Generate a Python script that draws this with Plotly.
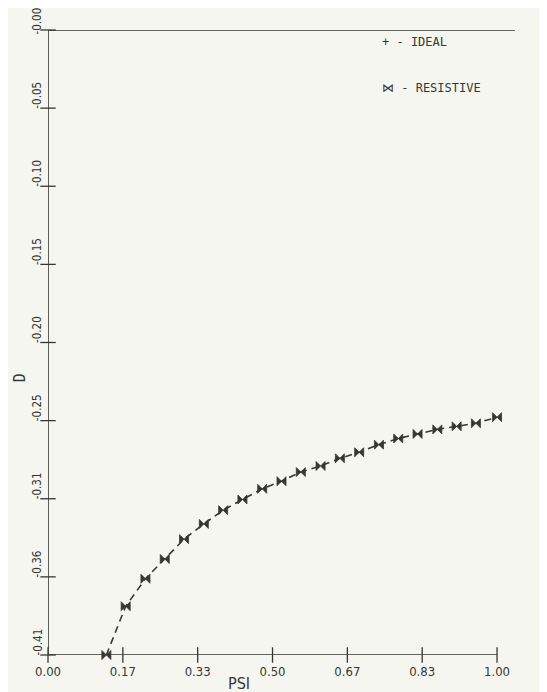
import plotly.graph_objects as go

# ---- data ----
psi = [0.130, 0.173, 0.217, 0.260, 0.303, 0.347, 0.390, 0.433, 0.477, 0.520,
       0.563, 0.607, 0.650, 0.693, 0.737, 0.780, 0.823, 0.867, 0.910, 0.953, 1.000]
d_resistive = [-0.410, -0.378, -0.360, -0.347, -0.334, -0.324, -0.315, -0.308, -0.301, -0.296,
               -0.290, -0.286, -0.281, -0.277, -0.272, -0.268, -0.265, -0.262, -0.260, -0.258, -0.254]
x_tickvals = [0, 1/6, 2/6, 3/6, 4/6, 5/6, 1.0]
x_ticktext = ["0.00", "0.17", "0.33", "0.50", "0.67", "0.83", "1.00"]
y_tickvals = [-0.41 * i / 8 for i in range(9)]
y_ticktext = ["-0.00", "-0.05", "-0.10", "-0.15", "-0.20", "-0.25", "-0.31", "-0.36", "-0.41"]

ink = "#363634"
paper = "#f5f6ef"
font = "DejaVu Sans Mono"
cond = "DejaVu Sans Condensed, DejaVu Sans"

xmin, xmax = x_tickvals[0], x_tickvals[-1]
ymin, ymax = min(y_tickvals), max(y_tickvals)

fig = go.Figure()

# resistive curve
fig.add_trace(go.Scatter(
    x=psi, y=d_resistive, mode="lines+markers",
    line=dict(color=ink, width=1.6, dash="7px,5px"),
    marker=dict(symbol="bowtie", size=9, color=ink, line=dict(width=0.8, color=ink)),
    cliponaxis=False, showlegend=False))

# axis tick marks (crossing the axes)
fig.add_trace(go.Scatter(
    x=x_tickvals, y=[ymin] * len(x_tickvals), mode="markers",
    marker=dict(symbol="line-ns-open", size=11, color=ink, line=dict(color=ink, width=1.3)),
    cliponaxis=False, showlegend=False, hoverinfo="skip"))
fig.add_trace(go.Scatter(
    x=[xmin] * len(y_tickvals), y=y_tickvals, mode="markers",
    marker=dict(symbol="line-ew-open", size=11, color=ink, line=dict(color=ink, width=1.3)),
    cliponaxis=False, showlegend=False, hoverinfo="skip"))

# frame lines
fig.add_shape(type="line", x0=xmin, x1=xmax, y0=ymin, y1=ymin, line=dict(color=ink, width=1.6))
fig.add_shape(type="line", x0=xmin, x1=xmin, y0=ymin, y1=ymax, line=dict(color=ink, width=1.6))
fig.add_shape(type="line", xref="paper", x0=0, x1=1, y0=ymax, y1=ymax, line=dict(color=ink, width=1.6))

annotations = [
    dict(text="PSI", xref="paper", yref="paper", x=0.41, y=0, yshift=-28,
         xanchor="center", yanchor="middle",
         showarrow=False, font=dict(size=16, family=cond, color=ink)),
    dict(text="D", xref="paper", yref="paper", x=0, xshift=-28, y=0.443,
         xanchor="center", yanchor="middle",
         textangle=-90, showarrow=False, font=dict(size=15, family=font, color=ink)),
    dict(text="+ - IDEAL", xref="paper", yref="paper", x=0.711, y=0.981,
         xanchor="left", yanchor="middle",
         showarrow=False, font=dict(size=12, family=font, color=ink)),
    dict(text="\u22c8 - RESISTIVE", xref="paper", yref="paper", x=0.711, y=0.907,
         xanchor="left", yanchor="middle",
         showarrow=False, font=dict(size=12, family=font, color=ink)),
]
# y tick labels, rotated, starting at the tick and reading upward
for v, t in zip(y_tickvals, y_ticktext):
    shift = -7 if v == ymax else -3
    annotations.append(dict(text=t, xref="paper", yref="y", x=0, xshift=-11, y=v, yshift=shift,
                            yanchor="bottom", xanchor="center", textangle=-90,
                            showarrow=False, font=dict(size=11.5, family=cond, color=ink)))

# the page body has an 8px margin, so the figure is 8px smaller and margins shifted
fig.update_layout(
    width=539, height=684,
    margin=dict(l=40, r=32, t=22, b=37, autoexpand=False),
    paper_bgcolor=paper, plot_bgcolor=paper,
    font=dict(family=font, color=ink, size=12),
    xaxis=dict(range=[xmin, 1.04], tickvals=x_tickvals, ticktext=x_ticktext,
               showgrid=False, zeroline=False, showline=False, ticks="",
               automargin=False, ticklabelstandoff=7,
               tickfont=dict(size=13, family=cond, color=ink)),
    yaxis=dict(range=[ymin, ymax], showticklabels=False,
               showgrid=False, zeroline=False, showline=False, ticks="",
               automargin=False),
    annotations=annotations,
)

fig.write_html("out.html")
